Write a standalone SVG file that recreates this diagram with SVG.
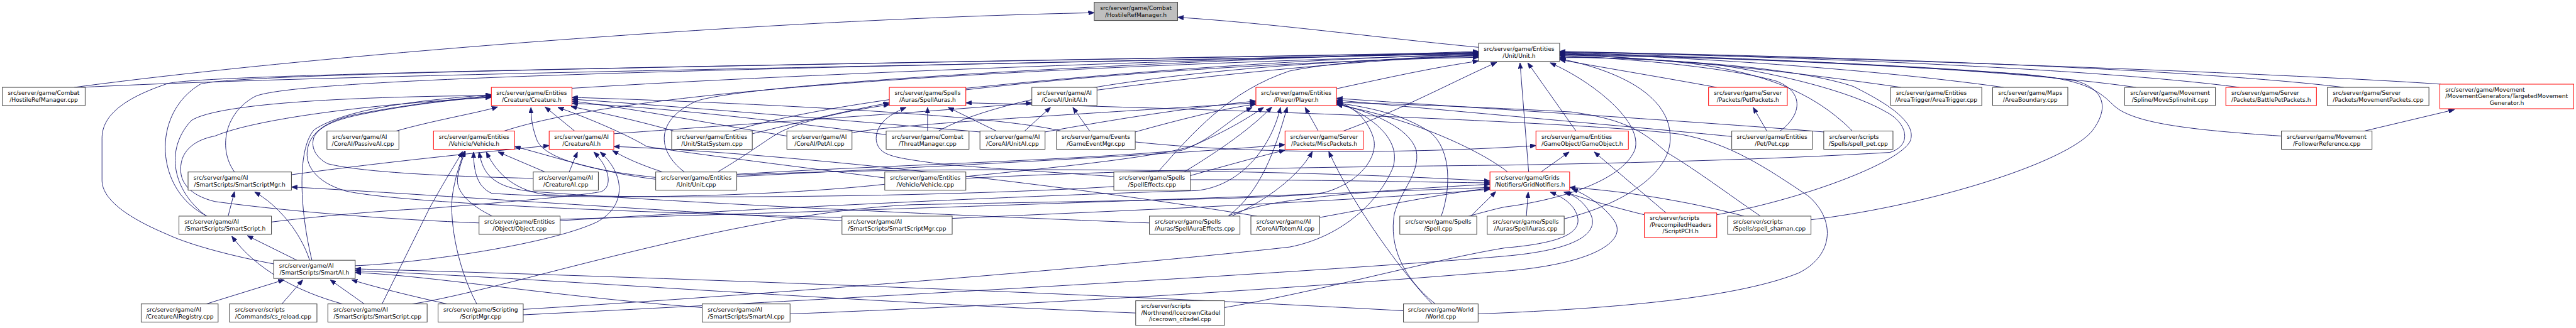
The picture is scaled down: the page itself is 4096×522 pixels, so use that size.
<svg xmlns="http://www.w3.org/2000/svg" width="4096" height="522" viewBox="0 0 4096 522">
<style>
.n rect{fill:#fff;stroke:#404040;stroke-width:1.4}
.r rect{stroke:#ff0000}
.g rect{fill:#bfbfbf}
text{font-family:"DejaVu Sans","Liberation Sans",sans-serif;font-size:12.7px;fill:#000}
.m{text-anchor:middle}
.e path{fill:none;stroke:#191970;stroke-width:1.3;marker-end:url(#ah)}
</style>
<defs>
<marker id="ah" markerWidth="13" markerHeight="10" refX="13" refY="5" orient="auto" markerUnits="userSpaceOnUse"><path d="M0,0 L13,5 L0,10 z" fill="#191970" stroke="#191970" stroke-width="1"/></marker>
</defs>
<rect width="4096" height="522" fill="#fff"/>
<g transform="scale(0.724062)">
<g id="edges" class="e">
<path d="M3247,104 C3000,80 2800,52 2586,38"/>
<path d="M163,192 C700,120 1700,42 2403,28"/>
<path d="M178,192 C800,160 2400,140 3247,116"/>
<path d="M1256,194 C1800,160 2700,128 3247,117"/>
<path d="M2121,194 C2500,155 2900,128 3247,119"/>
<path d="M2409,198 C2700,160 3000,132 3247,121"/>
<path d="M2935,195 C3050,170 3150,148 3247,134"/>
<path d="M2950,288 C3080,240 3200,175 3287,137"/>
<path d="M1107,288 C1300,225 1800,160 3247,120"/>
<path d="M2061,288 C2200,210 2600,140 3247,124"/>
<path d="M1608,288 C1900,200 2600,140 3247,126"/>
<path d="M1503,378 C1440,330 1440,262 1530,222 C1640,185 2400,140 3247,113"/>
<path d="M515,378 C480,330 490,250 560,212 C650,172 1600,150 3247,118"/>
<path d="M455,475 C340,420 330,250 440,185 C520,160 1600,145 3247,116"/>
<path d="M601,580 C520,565 420,540 367,515 C260,470 224,430 224,396 L224,304 C224,260 260,220 367,184 C440,162 1600,145 3247,115"/>
<path d="M2543,378 C2620,290 2700,200 2832,156 C2950,132 3150,124 3247,122"/>
<path d="M3770,192 C3650,170 3500,145 3425,131"/>
<path d="M3461,288 L3355,138"/>
<path d="M3357,378 L3338,138"/>
<path d="M3909,288 C3960,250 3960,200 3900,178 C3800,150 3600,130 3425,122"/>
<path d="M4068,288 C4000,220 3900,160 3700,138 C3600,128 3500,122 3425,118"/>
<path d="M4175,192 C3950,160 3700,130 3425,120"/>
<path d="M4400,192 C4100,150 3700,125 3425,117"/>
<path d="M4691,192 C4400,150 3800,125 3425,116"/>
<path d="M4918,192 C4600,150 3900,122 3425,115"/>
<path d="M5147,192 C4800,150 4000,122 3425,114"/>
<path d="M5360,185 C5000,160 4000,125 3425,113"/>
<path d="M5010,299 C4800,285 4680,270 4640,230 C4600,190 4560,170 4400,160 C4000,135 3600,120 3425,119"/>
<path d="M3770,472 C3950,440 4170,360 4195,310 C4210,270 4150,230 4070,190 C3950,150 3700,130 3425,125"/>
<path d="M3977,483 C4250,450 4560,350 4600,280 C4640,220 4600,190 4560,178 C4400,150 3800,125 3425,121"/>
<path d="M2121,392 C2500,372 3000,366 3304,363 C3600,358 3900,350 4150,335 C4200,320 4190,270 4140,245 C4080,210 3950,170 3776,143 C3650,130 3500,125 3425,127"/>
<path d="M3435,481 C3560,450 3680,380 3667,290 C3660,220 3580,160 3425,129"/>
<path d="M3225,475 C3260,466 3280,460 3304,455 C3420,440 3560,400 3590,330 C3610,270 3500,180 3404,138"/>
<path d="M2493,290 C2600,260 2700,236 2758,229"/>
<path d="M2600,378 C2680,330 2750,280 2793,235"/>
<path d="M2697,475 C2770,420 2800,330 2827,235"/>
<path d="M2895,288 L2866,236"/>
<path d="M1618,383 C1900,365 2300,355 2593,331 C2660,310 2700,260 2750,236"/>
<path d="M2121,388 C2300,370 2550,345 2620,320 C2690,290 2740,260 2775,236"/>
<path d="M1230,485 C1800,450 2400,425 2627,419 C2720,410 2790,330 2812,236"/>
<path d="M1871,292 C1950,275 2300,255 2758,226"/>
<path d="M2295,290 C2450,262 2600,238 2758,222"/>
<path d="M3803,300 C3600,280 3200,245 2935,220"/>
<path d="M4005,290 C3700,265 3200,235 2935,216"/>
<path d="M3152,668 C3080,610 3050,540 3062,470 C3075,420 3120,380 3110,330 C3095,280 3010,245 2935,228"/>
<path d="M3165,475 C3185,420 3190,330 3140,290 C3080,250 3000,235 2935,226"/>
<path d="M905,668 C1100,640 1600,470 2000,450 C2500,440 2832,437 2909,423 C2990,400 3030,340 3015,300 C3000,255 2965,232 2935,222"/>
<path d="M1149,680 C1800,640 2500,580 2832,543 C2950,520 3030,440 3059,368 C3080,300 3000,250 2935,224"/>
<path d="M3866,475 C3800,430 3720,370 3660,335 C3610,290 3570,262 3450,246 C3250,235 3050,228 2935,225"/>
<path d="M3311,378 C3250,330 3100,260 2935,230"/>
<path d="M3145,668 C3080,600 2970,450 2918,333"/>
<path d="M2614,386 C2700,362 2780,340 2822,330"/>
<path d="M2705,475 C2780,440 2850,390 2882,333"/>
<path d="M1618,388 C2000,368 2500,345 2822,318"/>
<path d="M1262,288 L1197,235"/>
<path d="M870,288 C950,265 1050,248 1093,235"/>
<path d="M1440,390 C1300,375 1200,350 1180,310 C1170,285 1166,262 1166,236"/>
<path d="M1943,391 C1700,360 1500,335 1420,322 C1385,300 1300,262 1225,236"/>
<path d="M1480,288 C1400,265 1320,248 1254,234"/>
<path d="M1728,299 C1550,270 1400,240 1256,222"/>
<path d="M2152,290 C1800,260 1500,235 1256,218"/>
<path d="M2330,288 C2200,255 1700,228 1256,214"/>
<path d="M1946,296 C1700,265 1450,235 1256,227"/>
<path d="M685,572 C660,470 650,330 690,285 C760,240 900,222 1079,208"/>
<path d="M1052,490 C800,480 600,460 472,443 C400,425 390,385 400,350 C410,320 440,305 472,299 C560,262 800,230 1079,214"/>
<path d="M1171,392 C1000,388 800,380 720,360 C690,345 682,320 690,300 C705,275 740,262 800,250 C900,230 990,220 1079,212"/>
<path d="M1849,478 C1500,470 900,450 760,420 C690,400 670,360 675,330 C680,290 720,265 780,252 C880,232 980,220 1079,210"/>
<path d="M453,475 C380,420 360,330 420,265 C480,225 800,212 1079,210"/>
<path d="M1081,475 C1030,450 1000,420 1005,390 C1008,370 1015,350 1022,332"/>
<path d="M1047,668 C1000,580 985,470 995,420 C1002,380 1012,355 1020,332"/>
<path d="M839,668 L944,456 C975,400 1000,360 1016,333"/>
<path d="M1197,378 L1094,334"/>
<path d="M1943,405 C1700,432 1300,440 1080,425 C1045,410 1040,370 1040,334"/>
<path d="M2524,490 C2000,470 1400,440 1160,420 C1080,410 1060,380 1052,334"/>
<path d="M2446,410 C2100,432 1500,438 1200,428 C1120,418 1085,370 1068,334"/>
<path d="M1440,394 C1320,380 1220,345 1130,322"/>
<path d="M640,384 C800,362 1000,340 1206,320"/>
<path d="M1250,378 L1268,334"/>
<path d="M596,488 C700,475 850,462 944,458 C1100,445 1280,430 1321,421 C1345,410 1340,370 1304,334"/>
<path d="M780,584 C900,580 1200,540 1311,488 C1380,450 1370,380 1318,334"/>
<path d="M2760,475 C2300,400 1700,335 1348,322"/>
<path d="M1455,378 C1400,360 1370,345 1345,331"/>
<path d="M2250,288 L2307,236"/>
<path d="M2393,288 L2356,236"/>
<path d="M1348,294 C1700,268 2050,245 2266,226"/>
<path d="M2037,288 L2037,236"/>
<path d="M2188,288 L2082,236"/>
<path d="M2446,388 C2300,378 2100,365 2055,359 C1990,350 1950,345 1935,330 C1915,310 1925,280 1945,262 C1960,250 1975,242 1990,236"/>
<path d="M1576,378 C1640,340 1680,310 1705,295 C1750,268 1850,245 1953,230"/>
<path d="M1652,294 C1750,270 1850,245 1953,226"/>
<path d="M3246,690 C3500,680 3800,660 3950,600 C4030,560 4030,480 3970,430 C3880,370 3800,315 3690,295 C3500,270 2700,240 2121,226"/>
<path d="M1849,485 C1400,460 900,425 640,411"/>
<path d="M501,475 L515,421"/>
<path d="M680,572 C660,510 610,450 559,422"/>
<path d="M652,572 L543,518"/>
<path d="M752,668 C650,640 560,590 509,519"/>
<path d="M453,668 L624,615"/>
<path d="M619,668 L665,615"/>
<path d="M800,668 L725,615"/>
<path d="M982,668 C900,650 820,630 772,615"/>
<path d="M1542,676 C1200,650 950,606 780,599"/>
<path d="M2494,688 C1800,660 1200,612 780,595"/>
<path d="M3082,683 C2300,640 1300,605 780,591"/>
<path d="M3352,475 L3356,422"/>
<path d="M3611,472 C3520,450 3460,430 3437,422"/>
<path d="M3830,475 C3700,440 3550,418 3447,412"/>
<path d="M2689,676 C2900,640 3150,570 3304,545 C3420,535 3470,515 3465,480 C3460,450 3430,432 3404,422"/>
<path d="M1149,692 C2000,650 3000,590 3304,563 C3480,548 3515,505 3490,465 C3475,440 3455,428 3434,422"/>
<path d="M1735,690 C2500,660 3000,620 3304,596 C3500,580 3575,530 3545,485 C3525,455 3485,428 3452,415"/>
<path d="M1230,482 C2000,460 2800,430 3272,412"/>
<path d="M3230,475 L3285,421"/>
<path d="M2898,478 C3050,450 3200,420 3272,414"/>
<path d="M2697,475 C2760,445 2900,425 3272,405"/>
<path d="M2614,395 C2900,395 3100,400 3272,402"/>
<path d="M1618,385 C2000,365 2800,370 3272,398"/>
<path d="M2091,480 C2500,462 3000,440 3272,416"/>
<path d="M3384,378 L3446,334"/>
<path d="M3659,468 L3501,334"/>
<path d="M2493,312 C2800,345 3200,332 3373,320"/>
<path d="M3880,288 L3850,236"/>
<path d="M5192,288 L5390,241"/>
</g>
<g id="n_hrmh" class="n g"><rect x="2403" y="5" width="183" height="40"/><text class="m" x="2494.5" y="22">src/server/game/Combat</text><text class="m" x="2494.5" y="37">/HostileRefManager.h</text></g>
<g id="n_unith" class="n"><rect x="3247" y="95" width="178" height="40"/><text class="m" x="3336" y="112">src/server/game/Entities</text><text class="m" x="3336" y="127">/Unit/Unit.h</text></g>
<g id="n_hrmcpp" class="n"><rect x="5" y="192" width="182" height="40"/><text class="m" x="96" y="209">src/server/game/Combat</text><text class="m" x="96" y="224">/HostileRefManager.cpp</text></g>
<g id="n_creatureh" class="n r"><rect x="1079" y="192" width="177" height="40"/><text class="m" x="1167.5" y="209">src/server/game/Entities</text><text class="m" x="1167.5" y="224">/Creature/Creature.h</text></g>
<g id="n_spellaurash" class="n r"><rect x="1953" y="192" width="168" height="40"/><text class="m" x="2037" y="209">src/server/game/Spells</text><text class="m" x="2037" y="224">/Auras/SpellAuras.h</text></g>
<g id="n_unitaih" class="n"><rect x="2266" y="192" width="143" height="40"/><text class="m" x="2337.5" y="209">src/server/game/AI</text><text class="m" x="2337.5" y="224">/CoreAI/UnitAI.h</text></g>
<g id="n_playerh" class="n r"><rect x="2758" y="192" width="177" height="40"/><text class="m" x="2846.5" y="209">src/server/game/Entities</text><text class="m" x="2846.5" y="224">/Player/Player.h</text></g>
<g id="n_petpacketsh" class="n r"><rect x="3752" y="192" width="173" height="40"/><text class="m" x="3838.5" y="209">src/server/game/Server</text><text class="m" x="3838.5" y="224">/Packets/PetPackets.h</text></g>
<g id="n_areatriggercpp" class="n"><rect x="4152" y="192" width="200" height="40"/><text x="4164" y="209">src/server/game/Entities</text><text class="m" x="4252" y="224">/AreaTrigger/AreaTrigger.cpp</text></g>
<g id="n_areaboundarycpp" class="n"><rect x="4376" y="192" width="165" height="40"/><text class="m" x="4458.5" y="209">src/server/game/Maps</text><text class="m" x="4458.5" y="224">/AreaBoundary.cpp</text></g>
<g id="n_movesplineinitcpp" class="n"><rect x="4666" y="192" width="199" height="40"/><text class="m" x="4765.5" y="209">src/server/game/Movement</text><text class="m" x="4765.5" y="224">/Spline/MoveSplineInit.cpp</text></g>
<g id="n_battlepetpacketsh" class="n r"><rect x="4888" y="192" width="199" height="40"/><text x="4900" y="209">src/server/game/Server</text><text class="m" x="4987.5" y="224">/Packets/BattlePetPackets.h</text></g>
<g id="n_movementpacketscpp" class="n"><rect x="5111" y="192" width="223" height="40"/><text x="5123" y="209">src/server/game/Server</text><text class="m" x="5222.5" y="224">/Packets/MovementPackets.cpp</text></g>
<g id="n_tmgh" class="n r"><rect x="5358" y="185" width="294" height="54"/><text x="5370" y="201">src/server/game/Movement</text><text x="5370" y="215.5">/MovementGenerators/TargetedMovement</text><text class="m" x="5505" y="230">Generator.h</text></g>
<g id="n_passiveaicpp" class="n"><rect x="718" y="288" width="158" height="40"/><text x="730" y="305">src/server/game/AI</text><text class="m" x="797" y="320">/CoreAI/PassiveAI.cpp</text></g>
<g id="n_vehicleh" class="n r"><rect x="952" y="288" width="178" height="40"/><text class="m" x="1041" y="305">src/server/game/Entities</text><text class="m" x="1041" y="320">/Vehicle/Vehicle.h</text></g>
<g id="n_creatureaih" class="n r"><rect x="1206" y="288" width="142" height="40"/><text class="m" x="1277" y="305">src/server/game/AI</text><text class="m" x="1277" y="320">/CreatureAI.h</text></g>
<g id="n_statsystemcpp" class="n"><rect x="1475" y="288" width="177" height="40"/><text class="m" x="1563.5" y="305">src/server/game/Entities</text><text class="m" x="1563.5" y="320">/Unit/StatSystem.cpp</text></g>
<g id="n_petaicpp" class="n"><rect x="1728" y="288" width="143" height="40"/><text class="m" x="1799.5" y="305">src/server/game/AI</text><text class="m" x="1799.5" y="320">/CoreAI/PetAI.cpp</text></g>
<g id="n_threatmanagercpp" class="n"><rect x="1946" y="288" width="182" height="40"/><text class="m" x="2037" y="305">src/server/game/Combat</text><text class="m" x="2037" y="320">/ThreatManager.cpp</text></g>
<g id="n_unitaicpp" class="n"><rect x="2152" y="288" width="143" height="40"/><text class="m" x="2223.5" y="305">src/server/game/AI</text><text class="m" x="2223.5" y="320">/CoreAI/UnitAI.cpp</text></g>
<g id="n_gameeventmgrcpp" class="n"><rect x="2320" y="288" width="173" height="40"/><text class="m" x="2406.5" y="305">src/server/game/Events</text><text class="m" x="2406.5" y="320">/GameEventMgr.cpp</text></g>
<g id="n_miscpacketsh" class="n r"><rect x="2822" y="288" width="172" height="40"/><text class="m" x="2908" y="305">src/server/game/Server</text><text class="m" x="2908" y="320">/Packets/MiscPackets.h</text></g>
<g id="n_gameobjecth" class="n r"><rect x="3373" y="288" width="203" height="40"/><text x="3385" y="305">src/server/game/Entities</text><text class="m" x="3474.5" y="320">/GameObject/GameObject.h</text></g>
<g id="n_petcpp" class="n"><rect x="3803" y="288" width="177" height="40"/><text class="m" x="3891.5" y="305">src/server/game/Entities</text><text class="m" x="3891.5" y="320">/Pet/Pet.cpp</text></g>
<g id="n_spellpetcpp" class="n"><rect x="4005" y="288" width="152" height="40"/><text x="4017" y="305">src/server/scripts</text><text class="m" x="4081" y="320">/Spells/spell_pet.cpp</text></g>
<g id="n_followerreferencecpp" class="n"><rect x="5010" y="288" width="199" height="40"/><text class="m" x="5109.5" y="305">src/server/game/Movement</text><text class="m" x="5109.5" y="320">/FollowerReference.cpp</text></g>
<g id="n_smartscriptmgrh" class="n"><rect x="413" y="378" width="227" height="40"/><text x="425" y="395">src/server/game/AI</text><text class="m" x="526.5" y="410">/SmartScripts/SmartScriptMgr.h</text></g>
<g id="n_creatureaicpp" class="n"><rect x="1171" y="378" width="143" height="40"/><text class="m" x="1242.5" y="395">src/server/game/AI</text><text class="m" x="1242.5" y="410">/CreatureAI.cpp</text></g>
<g id="n_unitcpp" class="n"><rect x="1440" y="378" width="178" height="40"/><text class="m" x="1529" y="395">src/server/game/Entities</text><text class="m" x="1529" y="410">/Unit/Unit.cpp</text></g>
<g id="n_vehiclecpp" class="n"><rect x="1943" y="378" width="178" height="40"/><text class="m" x="2032" y="395">src/server/game/Entities</text><text class="m" x="2032" y="410">/Vehicle/Vehicle.cpp</text></g>
<g id="n_spelleffectscpp" class="n"><rect x="2446" y="378" width="168" height="40"/><text class="m" x="2530" y="395">src/server/game/Spells</text><text class="m" x="2530" y="410">/SpellEffects.cpp</text></g>
<g id="n_gridnotifiersh" class="n r"><rect x="3272" y="378" width="175" height="40"/><text x="3284" y="395">src/server/game/Grids</text><text class="m" x="3359.5" y="410">/Notifiers/GridNotifiers.h</text></g>
<g id="n_smartscripth" class="n"><rect x="393" y="475" width="203" height="40"/><text x="405" y="492">src/server/game/AI</text><text class="m" x="494.5" y="507">/SmartScripts/SmartScript.h</text></g>
<g id="n_objectcpp" class="n"><rect x="1052" y="475" width="178" height="40"/><text class="m" x="1141" y="492">src/server/game/Entities</text><text class="m" x="1141" y="507">/Object/Object.cpp</text></g>
<g id="n_smartscriptmgrcpp" class="n"><rect x="1849" y="475" width="242" height="40"/><text x="1861" y="492">src/server/game/AI</text><text class="m" x="1970" y="507">/SmartScripts/SmartScriptMgr.cpp</text></g>
<g id="n_spellauraeffectscpp" class="n"><rect x="2524" y="475" width="199" height="40"/><text x="2536" y="492">src/server/game/Spells</text><text class="m" x="2623.5" y="507">/Auras/SpellAuraEffects.cpp</text></g>
<g id="n_totemaicpp" class="n"><rect x="2747" y="475" width="151" height="40"/><text x="2759" y="492">src/server/game/AI</text><text class="m" x="2822.5" y="507">/CoreAI/TotemAI.cpp</text></g>
<g id="n_spellcpp" class="n"><rect x="3074" y="475" width="169" height="40"/><text class="m" x="3158.5" y="492">src/server/game/Spells</text><text class="m" x="3158.5" y="507">/Spell.cpp</text></g>
<g id="n_spellaurascpp" class="n"><rect x="3266" y="475" width="169" height="40"/><text class="m" x="3350.5" y="492">src/server/game/Spells</text><text class="m" x="3350.5" y="507">/Auras/SpellAuras.cpp</text></g>
<g id="n_scriptpchh" class="n r"><rect x="3611" y="468" width="159" height="54"/><text x="3623" y="484">src/server/scripts</text><text x="3623" y="498.5">/PrecompiledHeaders</text><text class="m" x="3690.5" y="513">/ScriptPCH.h</text></g>
<g id="n_spellshamancpp" class="n"><rect x="3794" y="475" width="183" height="40"/><text x="3806" y="492">src/server/scripts</text><text class="m" x="3885.5" y="507">/Spells/spell_shaman.cpp</text></g>
<g id="n_smartaih" class="n"><rect x="601" y="572" width="179" height="40"/><text x="613" y="589">src/server/game/AI</text><text class="m" x="690.5" y="604">/SmartScripts/SmartAI.h</text></g>
<g id="n_creatureairegistrycpp" class="n"><rect x="310" y="668" width="169" height="40"/><text x="322" y="685">src/server/game/AI</text><text class="m" x="394.5" y="700">/CreatureAIRegistry.cpp</text></g>
<g id="n_csreloadcpp" class="n"><rect x="504" y="668" width="192" height="40"/><text x="516" y="685">src/server/scripts</text><text class="m" x="600" y="700">/Commands/cs_reload.cpp</text></g>
<g id="n_smartscriptcpp" class="n"><rect x="720" y="668" width="218" height="40"/><text x="732" y="685">src/server/game/AI</text><text class="m" x="829" y="700">/SmartScripts/SmartScript.cpp</text></g>
<g id="n_scriptmgrcpp" class="n"><rect x="962" y="668" width="187" height="40"/><text class="m" x="1055.5" y="685">src/server/game/Scripting</text><text class="m" x="1055.5" y="700">/ScriptMgr.cpp</text></g>
<g id="n_smartaicpp" class="n"><rect x="1542" y="668" width="193" height="40"/><text x="1554" y="685">src/server/game/AI</text><text class="m" x="1638.5" y="700">/SmartScripts/SmartAI.cpp</text></g>
<g id="n_icecrowncpp" class="n"><rect x="2494" y="661" width="195" height="54"/><text x="2506" y="677">src/server/scripts</text><text x="2506" y="691.5">/Northrend/IcecrownCitadel</text><text class="m" x="2591.5" y="706">/icecrown_citadel.cpp</text></g>
<g id="n_worldcpp" class="n"><rect x="3082" y="668" width="164" height="40"/><text class="m" x="3164" y="685">src/server/game/World</text><text class="m" x="3164" y="700">/World.cpp</text></g>
</g>
</svg>
